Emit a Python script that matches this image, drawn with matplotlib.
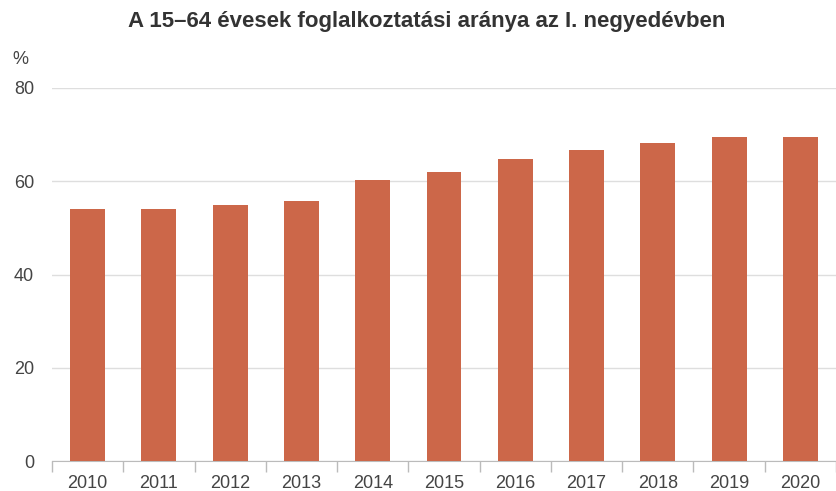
import matplotlib.pyplot as plt
import numpy as np

plt.rcParams['font.family'] = ['Liberation Sans', 'DejaVu Sans']

years = ['2010', '2011', '2012', '2013', '2014', '2015', '2016', '2017', '2018', '2019', '2020']
rate = [54.0, 54.0, 54.9, 55.8, 60.2, 62.0, 64.7, 66.8, 68.3, 69.5, 69.5]
yticks = [0, 20, 40, 60, 80]

fig = plt.figure(figsize=(8.36, 4.91), dpi=100)
ax = fig.add_axes([52/836, 30/491, 1 - 52/836, (461-88)/491])

x = np.arange(len(years))
ax.bar(x, rate, width=0.49, color='#cc6749', zorder=3)

ax.set_xlim(-0.5, 10.43)
ax.set_ylim(0, 80)
ax.set_yticks(yticks)
ax.yaxis.grid(True, color='#dedede', lw=1, zorder=0)
ax.tick_params(axis='y', length=0, pad=13, labelsize=13, labelcolor='#444444')

ax.set_xticks(x)
ax.set_xticklabels(years)
ax.set_xticks(np.arange(-0.5, 11, 1), minor=True)
ax.tick_params(axis='x', which='major', length=0, pad=10, labelsize=13, labelcolor='#444444')
ax.tick_params(axis='x', which='minor', length=8, color='#bbbbbb', width=1)

for s in ['top', 'right', 'left']:
    ax.spines[s].set_visible(False)
ax.spines['bottom'].set_color('#bbbbbb')

fig.text(12/836, 1 - 60/491, '%', fontsize=13, color='#444444', va='center', ha='left')
fig.text(427/836, 1 - 21/491, 'A 15–64 évesek foglalkoztatási aránya az I. negyedévben',
         fontsize=16, fontweight='bold', color='#333333', ha='center', va='center')

fig.savefig('out.png', dpi=100)
